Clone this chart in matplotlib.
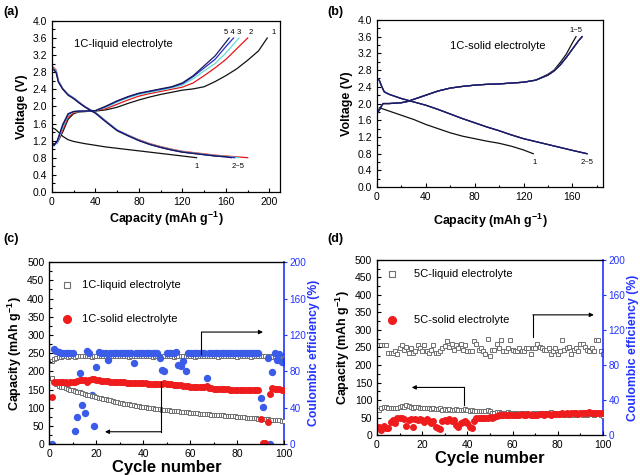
import matplotlib
matplotlib.use("Agg")
import matplotlib.pyplot as plt
from matplotlib.ticker import MultipleLocator

plt.rcParams['font.family'] = ['Liberation Sans', 'DejaVu Sans']
plt.rcParams['mathtext.fontset'] = 'custom'
plt.rcParams['mathtext.rm'] = 'Liberation Sans:bold'
plt.rcParams['mathtext.default'] = 'rm'

# ---- (a) 1C liquid electrolyte, voltage profiles ----
a_ch_cap_1 = [0, 2, 5, 10, 15, 20, 25, 30, 40, 50, 60, 70, 80, 90, 100, 110, 120, 130, 140, 150, 160, 170, 180, 190, 198]
a_ch_v_1 = [1.15, 1.12, 1.15, 1.4, 1.7, 1.83, 1.87, 1.88, 1.89, 1.92, 1.98, 2.07, 2.15, 2.22, 2.28, 2.33, 2.38, 2.41, 2.46, 2.58, 2.72, 2.88, 3.08, 3.3, 3.6]
a_ch_cap_2 = [0, 2, 5, 10, 15, 20, 25, 30, 40, 50, 60, 70, 80, 90, 100, 110, 120, 130, 140, 150, 160, 170, 180]
a_ch_v_2 = [1.12, 1.1, 1.15, 1.45, 1.75, 1.85, 1.88, 1.88, 1.9, 1.95, 2.05, 2.15, 2.24, 2.3, 2.35, 2.4, 2.45, 2.55, 2.72, 2.9, 3.1, 3.35, 3.6]
a_ch_cap_3 = [0, 2, 5, 10, 15, 20, 25, 30, 40, 50, 60, 70, 80, 90, 100, 110, 120, 130, 140, 150, 160, 172]
a_ch_v_3 = [1.1, 1.08, 1.15, 1.5, 1.8, 1.87, 1.88, 1.88, 1.9, 1.98, 2.1, 2.2, 2.28, 2.33, 2.38, 2.43, 2.5, 2.65, 2.83, 3.0, 3.25, 3.6]
a_ch_cap_4 = [0, 2, 5, 10, 15, 20, 25, 30, 40, 50, 60, 70, 80, 90, 100, 110, 120, 130, 140, 150, 160, 167]
a_ch_v_4 = [1.1, 1.08, 1.18, 1.55, 1.82, 1.88, 1.89, 1.89, 1.9, 2.0, 2.12, 2.22, 2.3, 2.35, 2.4, 2.45, 2.53, 2.7, 2.9, 3.1, 3.4, 3.6]
a_ch_cap_5 = [0, 2, 5, 10, 15, 20, 25, 30, 40, 50, 60, 70, 80, 90, 100, 110, 120, 130, 140, 150, 163]
a_ch_v_5 = [1.12, 1.1, 1.2, 1.58, 1.83, 1.88, 1.89, 1.89, 1.9, 2.01, 2.13, 2.23, 2.31, 2.36, 2.41, 2.46, 2.55, 2.72, 2.95, 3.18, 3.6]

a_dis_cap_1 = [0, 3, 6, 10, 15, 20, 30, 40, 50, 60, 70, 80, 90, 100, 110, 120, 133]
a_dis_v_1 = [1.5, 1.47, 1.4, 1.3, 1.22, 1.18, 1.13, 1.09, 1.05, 1.02, 0.99, 0.96, 0.93, 0.9, 0.87, 0.84, 0.8]
a_dis_cap_2 = [0, 2, 4, 6, 10, 15, 20, 25, 30, 35, 40, 50, 60, 70, 80, 90, 100, 110, 120, 130, 140, 150, 160, 170, 180]
a_dis_v_2 = [2.95, 2.9, 2.85, 2.6, 2.42, 2.28, 2.2, 2.1, 2.0, 1.93, 1.86, 1.65, 1.45, 1.33, 1.22, 1.13, 1.06, 1.0, 0.95, 0.92, 0.89, 0.86, 0.84, 0.82, 0.8]
a_dis_cap_3 = [0, 2, 4, 6, 10, 15, 20, 25, 30, 35, 40, 50, 60, 70, 80, 90, 100, 110, 120, 130, 140, 150, 160, 172]
a_dis_v_3 = [2.92, 2.88, 2.83, 2.6, 2.42, 2.28, 2.2, 2.1, 2.0, 1.93, 1.86, 1.65, 1.45, 1.33, 1.21, 1.12, 1.05, 0.99, 0.94, 0.91, 0.88, 0.85, 0.83, 0.8]
a_dis_cap_4 = [0, 2, 4, 6, 10, 15, 20, 25, 30, 35, 40, 50, 60, 70, 80, 90, 100, 110, 120, 130, 140, 150, 160, 168]
a_dis_v_4 = [2.9, 2.86, 2.8, 2.58, 2.41, 2.27, 2.19, 2.09, 2.0, 1.92, 1.85, 1.64, 1.44, 1.32, 1.2, 1.11, 1.04, 0.98, 0.93, 0.9, 0.87, 0.84, 0.82, 0.8]
a_dis_cap_5 = [0, 2, 4, 6, 10, 15, 20, 25, 30, 35, 40, 50, 60, 70, 80, 90, 100, 110, 120, 130, 140, 150, 160, 165]
a_dis_v_5 = [2.88, 2.85, 2.78, 2.57, 2.4, 2.26, 2.18, 2.08, 1.99, 1.91, 1.84, 1.63, 1.43, 1.31, 1.2, 1.11, 1.04, 0.98, 0.93, 0.9, 0.87, 0.84, 0.82, 0.8]

# ---- (b) 1C solid electrolyte, voltage profiles ----
b_ch_cap_1 = [0, 2, 4, 5, 10, 20, 25, 30, 40, 50, 60, 70, 80, 90, 100, 110, 120, 130, 140, 145, 150, 155, 160, 163]
b_ch_v_1 = [1.8, 1.88, 1.96, 2.0, 2.0, 2.02, 2.05, 2.1, 2.2, 2.3, 2.37, 2.41, 2.44, 2.46, 2.47, 2.49, 2.51, 2.56, 2.7, 2.8, 2.98, 3.18, 3.45, 3.6]
b_ch_cap_n = [0, 2, 4, 5, 10, 20, 25, 30, 40, 50, 60, 70, 80, 90, 100, 110, 120, 130, 140, 145, 150, 155, 160, 165, 168]
b_ch_v_n = [1.75, 1.85, 1.95, 2.0, 2.0, 2.02, 2.05, 2.1, 2.2, 2.3, 2.37, 2.41, 2.44, 2.46, 2.47, 2.49, 2.51, 2.56, 2.68, 2.78, 2.92, 3.1, 3.3, 3.5, 3.6]
b_dis_cap_1 = [2, 10, 20, 30, 40, 50, 60, 70, 80, 90, 100, 110, 120, 128]
b_dis_v_1 = [1.9, 1.82, 1.72, 1.62, 1.5, 1.4, 1.3, 1.22, 1.16, 1.1, 1.05, 0.98, 0.89, 0.8]
b_dis_cap_n = [0, 2, 4, 6, 10, 15, 20, 30, 40, 50, 60, 70, 80, 90, 100, 110, 120, 130, 140, 150, 160, 172]
b_dis_v_n = [2.62, 2.55, 2.4, 2.28, 2.22, 2.17, 2.12, 2.04, 1.96, 1.86, 1.75, 1.64, 1.54, 1.44, 1.35, 1.25, 1.16, 1.09, 1.02, 0.95, 0.88, 0.8]

cycle_colors = ['#111111', '#e8141c', '#5fe0d0', '#2a2ad0', '#1a1a5a']

# ---- (c) 1C cycling ----
cycles = list(range(1, 101))
c_liq_cap = [183, 170, 165, 161, 158, 156, 154, 152, 150, 148,
             146, 144, 142, 140, 138, 136, 135, 133, 132, 130,
             128, 126, 125, 123, 121, 120, 118, 117, 115, 114,
             112, 111, 110, 109, 108, 107, 106, 104, 103, 102,
             101, 100, 99, 98, 97, 96, 96, 95, 94, 93,
             93, 92, 91, 91, 90, 89, 89, 88, 87, 86,
             86, 85, 85, 84, 83, 83, 82, 82, 81, 81,
             80, 80, 79, 79, 78, 78, 77, 77, 76, 75,
             75, 74, 74, 73, 72, 72, 71, 71, 70, 70,
             69, 68, 68, 67, 67, 66, 65, 65, 64, 63]
c_liq_ce = [91, 94, 95, 96, 96, 96.5, 96.5, 96, 96.5, 96.5,
            96, 96.5, 97, 96.5, 96.5, 97, 96.5, 96, 96.5, 97,
            96.5, 96.5, 97, 96.5, 96, 96.5, 96.5, 97, 96.5, 96.5,
            96.5, 97, 96.5, 96, 96.5, 96.5, 97, 96.5, 96.5, 96.5,
            97, 96.5, 96.5, 96, 96.5, 97, 96.5, 96.5, 96.5, 97,
            96.5, 96.5, 96, 96.5, 97, 96.5, 96.5, 96.5, 97, 96.5,
            96.5, 96, 96.5, 97, 96.5, 96.5, 96.5, 97, 96.5, 96.5,
            96.5, 96, 96.5, 97, 96.5, 96.5, 96.5, 97, 96.5, 96,
            96.5, 96.5, 97, 96.5, 96.5, 96, 96.5, 97, 96.5, 96.5,
            96.5, 97, 96.5, 96.5, 96, 96.5, 96.5, 97, 96.5, 96.5]
c_sol_cap = [130, 172, 171, 170, 171, 170, 170, 169, 170, 170,
             172, 174, 176, 177, 175, 172, 176, 180, 178, 176,
             175, 174, 173, 174, 173, 172, 172, 171, 171, 170,
             170, 170, 169, 169, 169, 168, 168, 168, 167, 167,
             167, 166, 166, 166, 166, 166, 165, 166, 168, 166,
             165, 164, 163, 163, 162, 162, 161, 160, 159, 158,
             158, 157, 157, 156, 156, 157, 159, 155, 153, 152,
             152, 151, 151, 151, 151, 151, 150, 150, 150, 150,
             150, 150, 150, 150, 150, 149, 149, 149, 149, 68,
             3, 3, 60, 138, 153, 152, 151, 151, 150, 150]
c_sol_ce = [0, 105, 102, 101, 100.5, 100, 100, 100, 100.5, 100,
            14, 30, 78, 43, 34, 102, 100, 54, 20, 85,
            101, 100, 100, 100, 92, 100, 100, 100.5, 100, 100,
            100, 100, 100.5, 100, 100, 89, 100, 100, 100, 100.5,
            100, 100, 100, 100, 100.5, 100, 95, 81, 80, 100,
            100, 100.5, 100, 101, 87, 86, 91, 80, 100, 100,
            100, 100.5, 100, 100, 100, 100, 73, 100, 100, 100,
            100, 100, 100.5, 100, 100, 100, 100, 100.5, 100, 100,
            100, 100, 100, 100.5, 100, 100, 100, 100, 100, 51,
            41, 0, 95, 0, 79, 100, 92, 99, 90, 90]

# ---- (d) 5C cycling ----
d_liq_cap = [73, 78, 80, 79, 78, 77, 78, 78, 77, 80,
             82, 80, 85, 82, 80, 78, 80, 79, 77, 78,
             76, 78, 76, 75, 77, 75, 74, 76, 73, 74,
             72, 74, 73, 72, 74, 71, 73, 72, 74, 71,
             70, 72, 70, 69, 70, 68, 69, 70, 72, 68,
             64, 62, 66, 65, 62, 63, 64, 65, 62, 64,
             63, 60, 62, 61, 63, 62, 61, 60, 62, 61,
             62, 60, 62, 64, 61, 62, 66, 60, 62, 59,
             60, 62, 58, 62, 57, 60, 58, 56, 59, 60,
             58, 62, 58, 60, 59, 57, 60, 59, 56, 55]
d_liq_ce = [103, 103, 103, 103, 94, 94, 94, 96.5, 92, 99,
            103, 97.5, 101, 94, 99, 94, 96, 103, 99, 96,
            103, 96, 94, 97, 103, 94, 94, 96, 99, 102,
            107, 101, 104, 97, 103, 99, 104, 97, 103, 96,
            96, 96, 107, 104, 97, 99, 96, 93, 110, 90,
            97, 97, 104, 99, 108, 96, 96, 99, 108, 97,
            96, 96, 99, 96, 96, 99, 99, 93, 99, 99,
            104, 101, 99, 97, 97, 99, 93, 96, 99, 92,
            96, 108, 97, 99, 101, 93, 97, 99, 96, 104,
            104, 101, 97, 96, 99, 96, 108, 108, 96, 92]
d_sol_cap = [22, 15, 25, 20, 20, 38, 44, 35, 48, 50,
             50, 47, 25, 42, 45, 22, 45, 42, 45, 44,
             38, 45, 40, 34, 40, 22, 20, 18, 40, 42,
             40, 45, 40, 42, 28, 24, 34, 36, 40, 34,
             22, 20, 40, 48, 49, 48, 50, 48, 50, 52,
             50, 51, 55, 57, 58, 58, 57, 58, 58, 56,
             57, 58, 57, 59, 58, 57, 59, 58, 56, 58,
             57, 59, 60, 58, 59, 60, 58, 60, 61, 59,
             60, 62, 61, 63, 61, 62, 63, 62, 61, 63,
             62, 64, 62, 65, 63, 62, 64, 63, 62, 63]

red = '#ee1c1c'
blue = '#3a5ce8'
axblue = '#2233ff'

fig = plt.figure(figsize=(6.4, 4.75), dpi=100)


def style(ax, xmaj, xmin, ymaj, ymin):
    ax.xaxis.set_major_locator(MultipleLocator(xmaj))
    ax.xaxis.set_minor_locator(MultipleLocator(xmin))
    ax.yaxis.set_major_locator(MultipleLocator(ymaj))
    ax.yaxis.set_minor_locator(MultipleLocator(ymin))
    ax.tick_params(which='both', direction='in', top=False, right=False, labelsize=7.5, width=0.8)
    ax.tick_params(which='major', length=3)
    ax.tick_params(which='minor', length=1.8)
    for s in ax.spines.values():
        s.set_linewidth(0.9)


# (a)
ax = fig.add_axes([0.081, 0.596, 0.357, 0.36])
ch_a = [(a_ch_cap_1, a_ch_v_1), (a_ch_cap_2, a_ch_v_2), (a_ch_cap_3, a_ch_v_3), (a_ch_cap_4, a_ch_v_4), (a_ch_cap_5, a_ch_v_5)]
dis_a = [(a_dis_cap_1, a_dis_v_1), (a_dis_cap_2, a_dis_v_2), (a_dis_cap_3, a_dis_v_3), (a_dis_cap_4, a_dis_v_4), (a_dis_cap_5, a_dis_v_5)]
for i in range(5):
    ax.plot(ch_a[i][0], ch_a[i][1], color=cycle_colors[i], lw=0.9)
    ax.plot(dis_a[i][0], dis_a[i][1], color=cycle_colors[i], lw=0.9)
ax.set_xlim(0, 210)
ax.set_ylim(0, 4.0)
style(ax, 40, 20, 0.4, 0.2)
ax.yaxis.set_major_formatter(matplotlib.ticker.FormatStrFormatter('%.1f'))
ax.set_xlabel('Capacity (mAh g$^{-1}$)', fontsize=9, fontweight='bold', labelpad=2)
ax.set_ylabel('Voltage (V)', fontsize=9, fontweight='bold', labelpad=3)
ax.text(20, 3.38, '1C-liquid electrolyte', fontsize=8)
ax.text(158, 3.7, '5 4', fontsize=5.5)
ax.text(170, 3.7, '3', fontsize=5.5)
ax.text(181, 3.7, '2', fontsize=5.5)
ax.text(202, 3.7, '1', fontsize=5.5)
ax.text(131, 0.56, '1', fontsize=5.5)
ax.text(165, 0.56, '2~5', fontsize=5.5)
fig.text(0.005, 0.975, '(a)', fontsize=9, fontweight='bold', va='center')

# (b)
ax = fig.add_axes([0.589, 0.606, 0.353, 0.352])
for i in range(5):
    if i == 0:
        ax.plot(b_ch_cap_1, b_ch_v_1, color=cycle_colors[0], lw=0.9)
        ax.plot(b_dis_cap_1, b_dis_v_1, color=cycle_colors[0], lw=0.9)
    else:
        ax.plot(b_ch_cap_n, b_ch_v_n, color=cycle_colors[i], lw=0.9)
        ax.plot(b_dis_cap_n, b_dis_v_n, color=cycle_colors[i], lw=0.9)
ax.set_xlim(0, 185)
ax.set_ylim(0, 4.0)
style(ax, 40, 20, 0.4, 0.2)
ax.yaxis.set_major_formatter(matplotlib.ticker.FormatStrFormatter('%.1f'))
ax.set_xlabel('Capacity (mAh g$^{-1}$)', fontsize=9, fontweight='bold', labelpad=7)
ax.set_ylabel('Voltage (V)', fontsize=9, fontweight='bold', labelpad=3)
ax.text(60, 3.3, '1C-solid electrolyte', fontsize=8)
ax.text(158, 3.7, '1~5', fontsize=5.5)
ax.text(127, 0.56, '1', fontsize=5.5)
ax.text(167, 0.56, '2~5', fontsize=5.5)
fig.text(0.512, 0.975, '(b)', fontsize=9, fontweight='bold', va='center')


def cycling_panel(rect, liq_cap, liq_ce, sol_cap, sol_ce, lab_liq, lab_sol, pos, arrows):
    ax = fig.add_axes(rect)
    ax2 = ax.twinx()
    ax.set_zorder(ax2.get_zorder() + 1)
    ax.patch.set_visible(False)
    ax.plot(cycles, liq_cap, 's', mfc='white', mec='#707070', ms=3.3, mew=0.7)
    ax.plot(cycles, sol_cap, 'o', color=red, ms=4.0)
    ax2.plot(cycles, liq_ce, 's', mfc='white', mec='#707070', ms=3.3, mew=0.7)
    if sol_ce is not None:
        ax2.plot(cycles, sol_ce, 'o', color=blue, ms=4.3)
    ax.set_xlim(0, 100)
    ax.set_ylim(0, 500)
    ax2.set_ylim(0, 200)
    style(ax, 20, 10, 50, 25)
    ax2.yaxis.set_major_locator(MultipleLocator(40))
    ax2.yaxis.set_minor_locator(MultipleLocator(20))
    ax2.tick_params(which='both', direction='out', colors=axblue, labelsize=7.2, width=0.8, pad=1.5)
    ax2.tick_params(which='major', length=2.5)
    ax2.tick_params(which='minor', length=0)
    ax2.spines['right'].set_color(axblue)
    ax2.spines['right'].set_linewidth(1.2)
    ax.spines['right'].set_visible(False)
    ax.set_xlabel('Cycle number', fontsize=12, fontweight='bold', labelpad=1)
    ax.set_ylabel('Capacity (mAh g$^{-1}$)', fontsize=9, fontweight='bold', labelpad=2)
    ax2.set_ylabel('Coulombic efficiency (%)', fontsize=8.8, fontweight='bold', color=axblue, labelpad=1)
    ax.plot([pos[0]], [pos[1]], 's', mfc='white', mec='#707070', ms=4.5, mew=0.8)
    ax.text(pos[2], pos[1], lab_liq, fontsize=8, va='center')
    ax.plot([pos[0]], [pos[3]], 'o', color=red, ms=5.5)
    ax.text(pos[2], pos[3], lab_sol, fontsize=8, va='center')
    for (x0, y0, y1, x1) in arrows:
        ax.plot([x0, x0], [y0, y1], color='k', lw=0.8)
        ax.annotate('', xy=(x1, y1), xytext=(x0, y1),
                    arrowprops=dict(arrowstyle='-|>', color='k', lw=0.8, mutation_scale=6, shrinkA=0, shrinkB=0))
    return ax


cycling_panel([0.077, 0.065, 0.367, 0.383], c_liq_cap, c_liq_ce, c_sol_cap, c_sol_ce,
              '1C-liquid electrolyte', '1C-solid electrolyte', (7.4, 438, 14, 345),
              [(64.8, 249, 308, 91), (47.5, 171, 34, 23.7)])
fig.text(0.005, 0.497, '(c)', fontsize=9, fontweight='bold', va='center')

cycling_panel([0.589, 0.084, 0.353, 0.369], d_liq_cap, d_liq_ce, d_sol_cap, None,
              '5C-liquid electrolyte', '5C-solid electrolyte', (6.8, 459, 16.3, 329),
              [(69, 281, 343, 96), (38.7, 86, 136, 15.4)])
fig.text(0.512, 0.497, '(d)', fontsize=9, fontweight='bold', va='center')

fig.savefig('out.png', dpi=100)
